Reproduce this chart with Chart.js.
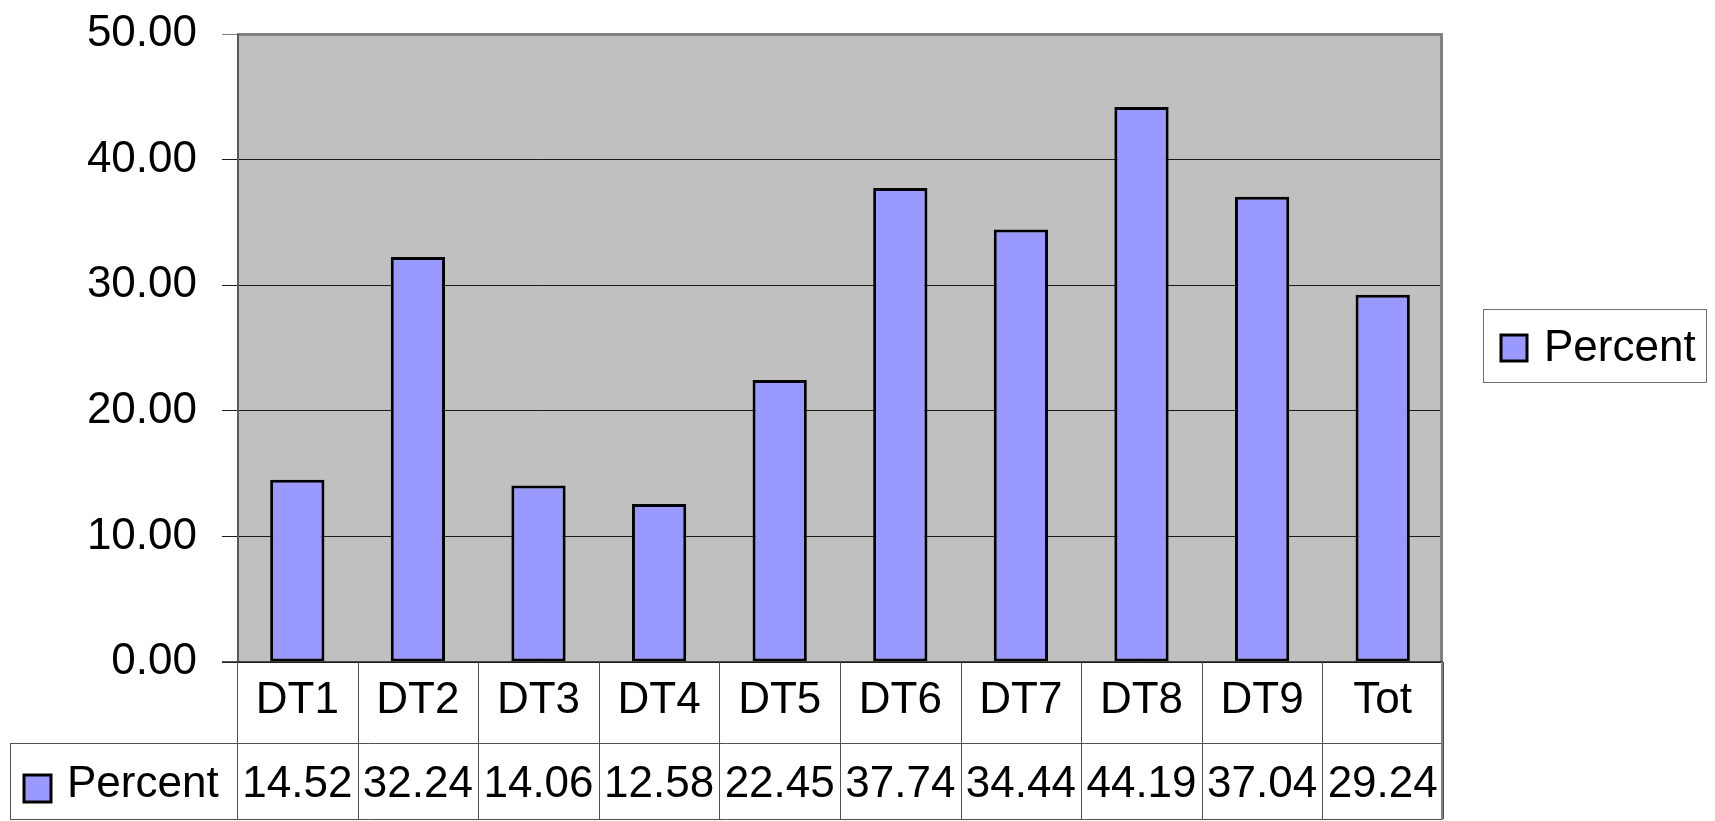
<!DOCTYPE html>
<html>
<head>
<meta charset="utf-8">
<script src="https://cdn.jsdelivr.net/npm/chart.js@4/dist/chart.umd.min.js"></script>
<style>
  html, body { margin: 0; padding: 0; background: #ffffff; }
  #wrap { width: 1715px; height: 821px; position: relative; }
</style>
</head>
<body>
<div id="wrap"><canvas id="c" width="1715" height="821"></canvas></div>
<script>
const categories = ['DT1', 'DT2', 'DT3', 'DT4', 'DT5', 'DT6', 'DT7', 'DT8', 'DT9', 'Tot'];
const percentValues = [14.52, 32.24, 14.06, 12.58, 22.45, 37.74, 34.44, 44.19, 37.04, 29.24];
const seriesName = 'Percent';
const yTicks = [0, 10, 20, 30, 40, 50];

const FONT = "'Liberation Sans', Arial, sans-serif";
const FONT_SIZE = 44;
const BAR_FILL = '#9999ff';

const framePlugin = {
  id: 'frame',
  beforeDraw(chart) {
    const a = chart.chartArea, ctx = chart.ctx;
    ctx.save();
    ctx.fillStyle = '#c0c0c0';
    ctx.fillRect(a.left, a.top, a.right - a.left, a.bottom - a.top);
    ctx.restore();
  },
  afterDatasetsDraw(chart) {
    const a = chart.chartArea, ctx = chart.ctx;
    ctx.save();
    ctx.strokeStyle = '#808080';
    ctx.lineWidth = 3;
    ctx.beginPath();
    ctx.moveTo(a.left, a.top + 0.5);
    ctx.lineTo(a.right - 1.5, a.top + 0.5);
    ctx.lineTo(a.right - 1.5, a.bottom);
    ctx.stroke();
    ctx.strokeStyle = '#5a5a5a';
    ctx.lineWidth = 2;
    ctx.beginPath();
    ctx.moveTo(a.left + 1, a.top);
    ctx.lineTo(a.left + 1, a.bottom);
    ctx.stroke();
    ctx.strokeStyle = '#222';
    ctx.lineWidth = 1.5;
    const y0 = chart.scales.y.getPixelForValue(0);
    ctx.beginPath();
    ctx.moveTo(a.left - 15, y0);
    ctx.lineTo(a.right, y0);
    ctx.stroke();
    ctx.restore();
  },
  afterDraw(chart) {
    const ctx = chart.ctx, xs = chart.scales.x, a = chart.chartArea;
    const n = chart.data.labels.length;
    const cw = (a.right - a.left) / n;
    const top = a.bottom, mid = 743, bot = 819;
    const labelLeft = 10;
    ctx.save();
    ctx.strokeStyle = '#505050';
    ctx.lineWidth = 1;
    ctx.beginPath();
    ctx.moveTo(labelLeft, mid + 0.5); ctx.lineTo(a.right, mid + 0.5);
    ctx.moveTo(labelLeft, bot + 0.5); ctx.lineTo(a.right, bot + 0.5);
    ctx.moveTo(labelLeft + 0.5, mid); ctx.lineTo(labelLeft + 0.5, bot);
    for (let i = 0; i <= n; i++) {
      const x = Math.round(xs.getPixelForValue(i) - cw / 2) + 0.5;
      ctx.moveTo(x, top); ctx.lineTo(x, bot);
    }
    ctx.stroke();
    ctx.strokeStyle = '#808080';
    ctx.lineWidth = 2;
    ctx.beginPath();
    ctx.moveTo(a.right - 1, top); ctx.lineTo(a.right - 1, bot + 1);
    ctx.stroke();

    ctx.fillStyle = '#000';
    ctx.font = FONT_SIZE + 'px ' + FONT;
    ctx.textAlign = 'center';
    ctx.textBaseline = 'alphabetic';
    const ds = chart.data.datasets[0];
    chart.data.labels.forEach((lab, i) => {
      const cx = xs.getPixelForValue(i);
      ctx.fillText(lab, cx, 713);
      ctx.fillText(ds.data[i].toFixed(2), cx, 797);
    });
    ctx.textAlign = 'left';
    ctx.fillStyle = BAR_FILL;
    ctx.fillRect(24, 775, 27, 27);
    ctx.strokeStyle = '#000';
    ctx.lineWidth = 3;
    ctx.strokeRect(24, 775, 27, 27);
    ctx.fillStyle = '#000';
    ctx.fillText(ds.label, 67, 797);

    ctx.strokeStyle = '#707070';
    ctx.lineWidth = 1;
    ctx.strokeRect(1483.5, 309.5, 223, 73);
    ctx.fillStyle = BAR_FILL;
    ctx.fillRect(1501, 335, 26, 26);
    ctx.strokeStyle = '#000';
    ctx.lineWidth = 3;
    ctx.strokeRect(1501, 335, 26, 26);
    ctx.fillStyle = '#000';
    ctx.fillText(ds.label, 1544, 361);
    ctx.restore();
  }
};

const chart = new Chart(document.getElementById('c'), {
  type: 'bar',
  data: {
    labels: categories,
    datasets: [{
      label: seriesName,
      data: percentValues,
      backgroundColor: BAR_FILL,
      borderColor: '#000000',
      borderWidth: 3,
      borderSkipped: false,
      barPercentage: 0.45,
      categoryPercentage: 1.0
    }]
  },
  options: {
    responsive: false,
    animation: false,
    devicePixelRatio: 1,
    layout: { padding: { top: 34, right: 272, bottom: 159, left: 0 } },
    plugins: {
      legend: { display: false },
      tooltip: { enabled: false }
    },
    scales: {
      x: {
        display: false,
        offset: true
      },
      y: {
        min: 0,
        max: 50,
        afterBuildTicks(scale) { scale.ticks = yTicks.map(v => ({ value: v })); },
        afterFit(scale) { scale.width = 237; scale.paddingTop = 0; scale.paddingBottom = 0; },
        ticks: {
          padding: 25,
          color: '#000',
          font: { family: FONT, size: FONT_SIZE },
          callback: (v) => Number(v).toFixed(2)
        },
        grid: {
          color: (c) => (c.tick && c.tick.value === 50) ? '#808080' : '#1a1a1a',
          lineWidth: 1,
          tickLength: 15,
          drawTicks: true
        },
        border: { display: false }
      }
    }
  },
  plugins: [framePlugin]
});
</script>
</body>
</html>
